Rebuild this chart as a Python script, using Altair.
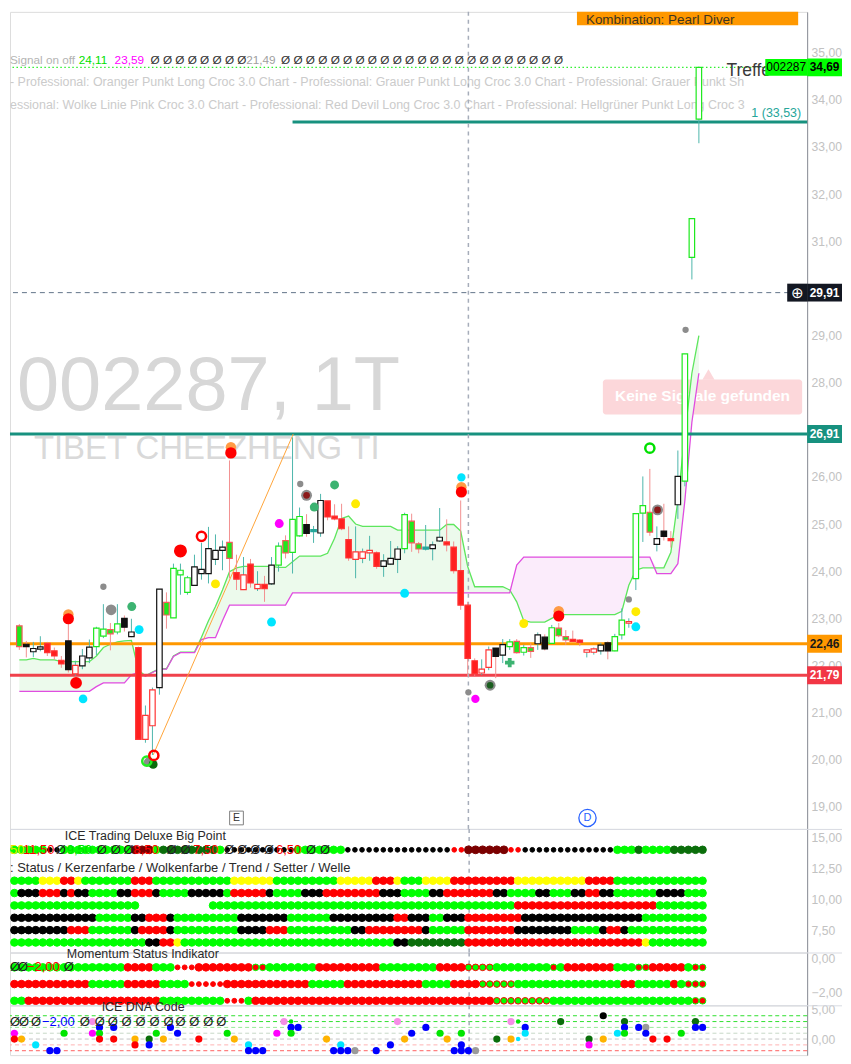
import altair as alt
import pandas as pd

# ---------------- candle data (bar index 0..98) ----------------
opens = [22.24, 22.84, 22.45, 22.29, 22.36, 22.47, 22.31, 22.11, 22.52, 21.82,
         21.99, 22.16, 22.40, 22.62, 22.76, 22.71, 23.00, 22.61, 22.38, 20.43,
         20.72, 21.53, 23.34, 23.01, 23.92, 23.55, 23.70, 23.95, 23.95, 24.25,
         24.44, 24.61, 23.97, 23.61, 24.15, 23.63, 23.72, 23.73, 24.13, 24.65,
         24.40, 24.75, 24.99, 24.85, 24.81, 25.49, 25.17, 25.11, 24.67, 24.25,
         24.27, 24.39, 24.39, 24.10, 24.15, 24.25, 24.48, 25.06, 24.58, 24.48,
         24.48, 24.64, 24.62, 24.51, 24.01, 23.28, 22.10, 21.84, 21.96, 22.37,
         22.22, 22.40, 22.51, 22.28, 22.38, 22.46, 22.60, 22.47, 22.79, 22.61,
         22.54, 22.54, 22.28, 22.28, 22.31, 22.48, 22.31, 22.65, 22.91, 23.84,
         25.23, 25.25, 24.57, 24.85, 24.68, 25.41, 25.91, 30.66, 33.59]
closes = [22.70, 22.40, 22.40, 22.36, 22.38, 22.27, 22.20, 22.03, 21.91, 22.00,
          22.20, 22.39, 22.79, 22.77, 22.67, 22.88, 22.81, 22.71, 20.43, 20.94,
          21.48, 23.62, 23.07, 24.06, 24.02, 23.86, 24.09, 24.04, 24.48, 24.44,
          24.51, 24.27, 23.83, 23.92, 23.75, 23.72, 23.63, 24.13, 24.53, 24.39,
          25.10, 25.16, 24.80, 24.87, 25.50, 25.15, 25.11, 24.90, 24.28, 24.41,
          24.41, 24.44, 24.10, 24.22, 24.27, 24.47, 25.20, 24.60, 24.47, 24.50,
          24.56, 24.72, 24.56, 24.01, 23.28, 22.15, 21.82, 21.92, 22.33, 22.19,
          22.44, 22.50, 22.27, 22.38, 22.30, 22.65, 22.35, 22.80, 22.63, 22.54,
          22.52, 22.49, 22.33, 22.35, 22.43, 22.31, 22.61, 22.96, 22.92, 25.22,
          25.39, 24.83, 24.69, 24.74, 24.66, 26.01, 28.61, 31.48, 34.69]
highs = [22.75, 22.88, 22.52, 22.50, 22.62, 22.50, 22.38, 22.20, 22.97, 22.10,
         22.35, 22.55, 22.82, 23.30, 22.90, 23.30, 23.06, 22.99, 22.40, 21.15,
         21.53, 23.62, 23.55, 24.16, 24.16, 23.90, 24.35, 24.60, 24.94, 24.78,
         24.65, 26.35, 24.35, 24.30, 24.26, 24.00, 23.90, 24.30, 24.61, 24.76,
         26.84, 25.35, 25.21, 24.96, 25.64, 25.49, 25.42, 25.43, 24.95, 24.95,
         24.48, 24.75, 24.42, 24.36, 24.64, 24.53, 25.24, 25.22, 24.62, 24.98,
         24.63, 25.34, 25.10, 24.63, 25.50, 23.35, 22.15, 22.13, 22.40, 22.37,
         22.56, 22.56, 22.56, 22.44, 22.47, 22.70, 22.66, 22.86, 22.90, 22.75,
         22.74, 22.56, 22.33, 22.38, 22.48, 22.51, 22.67, 23.21, 23.00, 25.22,
         26.01, 26.17, 24.95, 25.43, 24.85, 26.56, 28.61, 31.48, 34.69]
lows = [22.20, 22.33, 22.17, 22.18, 22.30, 22.20, 22.12, 21.95, 21.85, 21.78,
        21.92, 22.05, 22.22, 22.58, 22.32, 22.66, 22.72, 22.60, 20.43, 20.36,
        20.10, 21.38, 22.78, 23.01, 23.50, 23.50, 23.70, 23.82, 23.74, 24.13,
        24.02, 23.85, 23.60, 23.60, 23.65, 23.58, 23.35, 23.71, 23.99, 24.27,
        23.95, 24.73, 24.73, 24.60, 24.73, 25.08, 25.08, 24.87, 24.22, 23.85,
        24.17, 24.22, 24.05, 23.88, 24.13, 23.96, 24.38, 24.41, 24.38, 24.44,
        24.23, 24.62, 24.42, 23.95, 23.18, 21.77, 21.78, 21.80, 21.90, 21.73,
        22.05, 22.33, 22.25, 22.21, 22.16, 22.33, 22.32, 22.47, 22.60, 22.44,
        22.50, 22.41, 22.17, 22.23, 22.23, 22.13, 22.30, 22.55, 22.80, 23.60,
        24.62, 24.75, 24.42, 24.65, 24.50, 25.11, 25.80, 30.19, 33.08]
candle_types = list("KMKKKRRRKR" "KKGGMGKKRR" "RKMGGGKKKK" "KMRRRRRKGM" "GGKTKRRRRR"
                    "RRRKKKGMMT" "KKRRRRRRRK" "KGMGMKKGMM" "RRRRKKGGRG" "GMKKRKGGG")

# cloud lines (green = Wolke, magenta = Wolke Linie Pink)
cloud_green = ([22.12] * 3 + [22.15] + [22.12] * 3 + [22.08] * 5 + [22.20, 22.38, 22.45, 22.50, 22.52, 22.53,
               21.90, 21.78, 21.86, 21.93, 21.93, 22.20] + [22.28] * 3 + [22.60, 22.95, 23.25, 23.60, 23.99, 24.07]
               + [24.10] * 5 + [24.08] * 2 + [24.20] + [24.32] * 4 + [24.38, 24.70, 25.12, 25.17, 25.00]
               + [24.95] * 5 + [24.87] * 7 + [24.99] * 2 + [24.85, 24.10] + [23.67] * 5 + [23.60, 23.35, 22.95]
               + [22.92] * 3 + [23.00] + [23.08] * 9 + [23.15, 23.70, 24.02] + [24.07] * 4
               + [24.40, 25.50, 26.90, 28.20, 29.00])
cloud_pink = ([21.45] * 12 + [21.55] + [21.63] * 4 + [21.80, 21.85, 21.77, 21.85, 21.92, 21.92, 22.19]
              + [22.27] * 3 + [22.55, 22.59, 22.59, 22.95] + [23.28] * 9 + [23.54] * 32 + [24.13]
              + [24.30] * 19 + [23.95] * 3 + [24.16, 25.50, 27.16, 28.20])

# signal dots on the price panel
sig_k = [8, 8, 9.1, 10.1, 13.0, 14.1, 17.05, 18.1, 19.4, 20.1, 24.0, 29.0, 31.2, 31.2, 37.0, 38.1,
         41.1, 42.0, 42.0, 43.1, 46.0, 49.0, 56.0, 64.1, 64.1, 64.1, 65.1, 66.1, 68.2, 68.2, 73.0,
         78.0, 78.0, 88.0, 89.0, 89.0, 92.1, 92.1, 96.1]
sig_p = [23.08, 22.99, 21.63, 21.29, 23.67, 23.18, 23.25, 22.76, 19.95, 19.90, 24.43, 23.73, 26.63,
         26.51, 22.92, 25.01, 25.85, 25.61, 25.61, 25.36, 25.83, 25.43, 23.53, 25.99, 25.78, 25.68,
         21.43, 21.29, 21.58, 21.58, 22.89, 23.15, 23.05, 23.40, 23.14, 22.82, 25.30, 25.30, 29.12]
sig_c = ["#ff9b45", "#ff0000", "#ff0000", "#00e5ff", "#8c8c8c", "#8c8c8c", "#3cb371", "#00e5ff",
         "#8c8c8c", "#0b6b0b", "#ff0000", "#ffeb00", "#ff9b45", "#ff0000", "#00e5ff", "#ff00ff",
         "#8c8c8c", "#8c8c8c", "#8b1a1a", "#3cb371", "#3cb371", "#ffeb00", "#00e5ff", "#00e5ff",
         "#ff9b45", "#ff0000", "#8c8c8c", "#ff00ff", "#8c8c8c", "#1b5e20", "#ffeb00", "#ff9b45",
         "#ff0000", "#8c8c8c", "#ffeb00", "#00e5ff", "#8c8c8c", "#8b1a1a", "#8c8c8c"]
sig_s = [110, 125, 140, 75, 40, 115, 80, 80, 80, 80, 170, 80, 110, 130, 80, 80, 40, 120, 45, 80, 80,
         80, 80, 70, 110, 125, 40, 70, 120, 45, 80, 110, 125, 40, 80, 80, 120, 45, 40]
ring_k = [19.2, 20.2, 27.0, 91.0]
ring_p = [19.97, 20.09, 24.74, 26.61]
ring_c = ["#22ee22", "#ff0000", "#ff0000", "#00e000"]
plus_k = [71.0]
plus_p = [22.06]
trend_k = [20.1, 40.1]
trend_p = [20.10, 26.91]

# indicator rows (run-length coded colours per bar)
bigpoint_rle = "G6 k2 G10 M3 G1 D8 G1 k10 G7 k15 r2 M6 r2 k13 G3 D1 G4 D5"
status_rle = "G5 Y3 R2 Y1 G7 R3 G11 Y6 G9 Y5 R3 Y1 G3 Y4 R9 Y10 R4 G13"
candle_rle = "R1 G1 K3 R3 K1 R1 K2 G4 K2 R3 K1 G4 K5 G1 R5 K1 G4 K3 R8 K3 G4 K2 R7 K2 G4 K2 G3 K2 R2 K2 G6 K4 G3"
cloudc_rle = "G19 _10 G43 R20 G7"
trend_rle = "K13 G5 K2 R3 K1 G9 K7 G6 K9 R2 K3 G2 K3 R8 K17 G9"
setter_rle = "K9 R3 G6 K1 R4 K1 G9 K4 R3 G9 K2 R8 K1 G5 R7 K8 G4 K1 R2 K1 G11"
wave_rle = "G20 K2 R2 Y1 G30 K2 D8 R25 Y1 G8"
bp_levels = [14.0, 11.5, 10.5, 9.5, 8.5, 7.5, 6.5]
mom_a_rle = "G17 R4 G3 s3 R8 b2 G7 R9 G8 R4 a4 G8 b1 G1 R7 G3 b2 R5 G1 b2"
mom_b_rle = "R12 G5 R5 G4 s5 R12 G5 R11 G4 R4 a5 G15 R2 G5 R1 G1 b3"
mom_c_rle = "R1 G2 R19 G9 s3 G1 R34 a8 G20 b2"
mom_levels = [-0.5, -1.5, -2.5]

dna_k = [1, 1, 2, 2, 4, 6, 7, 6, 8,
         12, 12, 13, 13, 13, 15, 15, 18, 18, 18,
         18, 20, 20, 21, 22, 23, 24, 27, 28, 31,
         32, 33, 34, 34, 35, 36, 38, 39, 40, 40,
         40, 41, 44, 45, 45, 45, 46, 47, 47, 48,
         49, 52, 54, 55, 56, 57, 59, 61, 62, 62,
         63, 63, 64, 64, 64, 65, 66, 69, 71, 71,
         72, 72, 73, 73, 78, 82, 82, 82, 84, 84,
         86, 87, 87, 87, 89, 90, 90, 91, 93, 94,
         95, 97, 97, 98]
dna_v = [1, 0, 0, -4, -1, -2, -2, -3, 1,
         1, 3, 2, 1, 0, 2, 0, 0, -1, -3.3,
         -4, 0, -1, 1, 0, 2, 1, 0, -3, 1,
         0, -3, -1, -2, -2, -2, 1, 3, 3, 2,
         1, 2, -3, 0, -3.3, -4, -2, -1, -2, -2,
         -2, -2, -1, 3, 0, 1, 2, 1, -3, 0,
         -2, -3.3, 1, -1, -2, -2, -2, 0, 3, 0,
         3, 0, 2, 1, 3, 0, -1, -3, 4, 0,
         1, 3, 2, 1, 2, 2, 1, 0, 0, -3,
         1, 3, 2, 2]
dna_c = list("mrokcbbdg" "mpbgrbrors" "kdbgobbrpg" "odcbbbmptb" "gbposkbcbb"
             "ybbpobbgpo" "bsgbbbydpo" "tubcddmpko" "cdbgbybrrp" "gdbb")
dna_levels = [4, 3, 2, 1, 0, -1, -2, -3, -4]
dna_level_colors = ["#2ee02e", "#2ee02e", "#98e898", "#c8d8c8", "#c4c4c4", "#ffb3b3", "#ff6060", "#ff5050", "#ff5050"]

# ---------------- layout helpers ----------------
W = 800
AXW = 35   # width kept for the price axis (page is 851 wide with 8px margins)
H_MAIN, H_BP, H_MOM, H_DNA = 820, 124, 53, 50
DNA_DOMAIN = [5.79 - H_DNA / 5.85, 5.79]
FONT = "Liberation Sans"
LABEL_EXPR = "replace(replace(format(datum.value, '.2f'), '.', ','), '-', '\u2212')"
one = pd.DataFrame({"z": [0]})
FIRST_VISIBLE_BAR = 1   # bar 0 sits left of the plot edge


def xscale():
    return alt.Scale(domain=[0.38, 112.74], nice=False, zero=False)


def X(field):
    return alt.X(field, type="quantitative", scale=xscale(), axis=None)


def XD(v):
    return alt.XDatum(v, type="quantitative", scale=xscale(), axis=None)


def make_y(domain, vals):
    sc = alt.Scale(domain=domain, nice=False, zero=False)
    ax = alt.Axis(orient="right", values=vals, labelExpr=LABEL_EXPR, grid=False, ticks=False,
                  domain=True, domainColor="#8d9099", labelColor="#c2c2c2", labelFontSize=12.2,
                  labelFont=FONT, labelPadding=4, title=None)

    def Y(field):
        return alt.Y(field, type="quantitative", scale=sc, axis=ax)

    def YD(v):
        return alt.YDatum(v, type="quantitative", scale=sc, axis=ax)
    return Y, YD


def txt(s, x, y, color, size=12.5, align="left", baseline="middle", weight="normal", **kw):
    return alt.Chart(one).mark_text(align=align, baseline=baseline, fontSize=size, fontWeight=weight,
                                    color=color, font=FONT, **kw).encode(
        x=alt.value(x), y=alt.value(y), text=alt.value(s))


def txt_y(s, x, Ycoord, color, size=12.5, align="left", weight="normal", **kw):
    return alt.Chart(one).mark_text(align=align, baseline="middle", fontSize=size, fontWeight=weight,
                                    color=color, font=FONT, **kw).encode(
        x=alt.value(x), y=Ycoord, text=alt.value(s))


def expand(rle):
    out = []
    for tok in rle.split():
        out += [tok[0]] * int(tok[1:])
    return out


DOT = {
    "G": ("#00ff00", "#00ff00", 58), "Y": ("#ffff00", "#ffff00", 58), "R": ("#ff0000", "#ff0000", 58),
    "K": ("#000000", "#000000", 58), "D": ("#0b6e0b", "#0b6e0b", 58), "M": ("#7b0000", "#7b0000", 62),
    "k": ("#000000", "#000000", 22), "r": ("#ff0000", "#ff0000", 22), "s": ("#ff0000", "#ff0000", 24),
    "a": ("#00ff00", "#ff0000", 44), "b": ("#ff0000", "#00ff00", 44),
}


def rows_frame(rles, levels):
    recs = []
    for rle, lv in zip(rles, levels):
        for i, code in enumerate(expand(rle)):
            if code == "_" or i < FIRST_VISIBLE_BAR:
                continue
            f, s, z = DOT[code]
            recs.append({"k": i, "v": lv, "fill": f, "stroke": s, "size": z})
    return pd.DataFrame(recs)


def separator():
    return alt.Chart(one).mark_rule(color="#d9dbe2", strokeWidth=1).encode(
        x=alt.value(0), x2=alt.value(W + AXW), y=alt.value(0.5))


def vline():
    return alt.Chart(one).mark_rule(color="#a6adba", strokeWidth=1.5, strokeDash=[4, 4]).encode(x=XD(65.1))


# ---------------- main price panel ----------------
Y, YD = make_y([18.531, 35.867], [19, 20, 21, 22, 23, 24, 25, 26, 28, 29, 31, 32, 33, 34, 35])

cd = pd.DataFrame({"k": list(range(len(opens))), "o": opens, "h": highs, "l": lows, "c": closes,
                   "t": candle_types, "g": cloud_green, "m": cloud_pink})
cd["top"] = cd[["o", "c"]].max(axis=1)
cd["bot"] = cd[["o", "c"]].min(axis=1)
thin = (cd["top"] - cd["bot"]) < 0.03
cd.loc[thin, "top"] = cd.loc[thin, "top"] + 0.012
cd.loc[thin, "bot"] = cd.loc[thin, "bot"] - 0.012
cd["ctop"] = cd[["g", "m"]].max(axis=1)


def style(row):
    up = row.c > row.o
    t = row.t
    if t == "K":
        return ("#ffffff" if up else "#111111", "#111111")
    if t == "G":
        return ("#ffffff" if up else "#1de91d", "#1de91d")
    if t == "R":
        return ("#ffffff" if up else "#ff1f1f", "#ff3535")
    if t == "M":
        return ("#1de91d", "#f25c5c")
    return ("#26a69a", "#26a69a")


st = cd.apply(style, axis=1)
cd["fill"] = [s[0] for s in st]
cd["stroke"] = [s[1] for s in st]
cd["wick"] = ["#4db6ac" if c >= o else "#f29191" for o, c in zip(cd.o, cd.c)]
cd = cd[cd.k >= FIRST_VISIBLE_BAR]

sig = pd.DataFrame({"k": sig_k, "p": sig_p, "c": sig_c, "s": sig_s})
rings = pd.DataFrame({"k": ring_k, "p": ring_p, "c": ring_c})
plus = pd.DataFrame({"k": plus_k, "p": plus_p})
trend = pd.DataFrame({"k": trend_k, "p": trend_p})

L = []
# watermark
L.append(txt("002287, 1T", 7, 400, "#d7d7d7", size=76, baseline="alphabetic"))
L.append(txt("TIBET CHEEZHENG TI", 24, 449, "#d9d9d9", size=33, baseline="alphabetic"))
# legend lines
leg1 = [("Signal on off", 0, "#b3b3b3"), ("24,11", 69, "#00e000"), ("23,59", 105, "#ff00ff"),
        ("Ø Ø Ø Ø Ø Ø Ø Ø", 141, "#333333"), ("21,49", 237, "#a0a0a0"), ("Ø " * 23, 272, "#333333")]
for s, x, c in leg1:
    L.append(txt(s, x, 48, c, size=11.8))
L.append(txt("- Professional: Oranger Punkt Long Croc 3.0 Chart - Professional: Grauer Punkt Long Croc 3.0 Chart"
             " - Professional: Grauer Punkt Short Croc 3.0 Chart", 0, 70, "#cbcbcb", size=12.5,
             limit=742, ellipsis=" "))
L.append(txt("essional: Wolke Linie Pink Croc 3.0 Chart - Professional: Red Devil Long Croc 3.0 Chart"
             " - Professional: Hellgrüner Punkt Long Croc 3.0 Chart", 0, 93, "#cbcbcb", size=12.5,
             limit=742, ellipsis=" "))
# "Keine Signale gefunden" box
L.append(alt.Chart(one).mark_rect(color="#fcd7da", cornerRadius=3).encode(
    x=alt.value(595), x2=alt.value(795), y=alt.value(369), y2=alt.value(404)))
L.append(alt.Chart(one).mark_point(shape="triangle-up", filled=True, size=150, color="#fcd7da", opacity=1).encode(
    x=alt.value(701), y=alt.value(364)))
L.append(txt("Keine Signale gefunden", 695, 386, "#ffffff", size=15.5, align="center", weight="bold"))
# cloud
base = alt.Chart(cd)
L.append(base.mark_area(color="#ecfaec", interpolate="linear").encode(
    x=X("k"), y=Y("ctop"), y2=alt.Y2("m")))
L.append(base.mark_area(color="#fbecfb", interpolate="linear").encode(
    x=X("k"), y=Y("ctop"), y2=alt.Y2("g")))
L.append(base.mark_line(color="#5de65d", strokeWidth=1.3).encode(x=X("k"), y=Y("g")))
L.append(base.mark_line(color="#e04ce0", strokeWidth=1.3).encode(x=X("k"), y=Y("m")))
# horizontal levels
L.append(alt.Chart(one).mark_rule(color="#17917f", strokeWidth=3).encode(y=YD(26.91)))
L.append(alt.Chart(one).mark_rule(color="#ff9800", strokeWidth=3).encode(y=YD(22.46)))
L.append(alt.Chart(one).mark_rule(color="#f0414b", strokeWidth=3).encode(y=YD(21.79)))
L.append(alt.Chart(one).mark_rule(color="#17917f", strokeWidth=3).encode(x=XD(40.0), x2=alt.value(W), y=YD(33.53)))
L.append(alt.Chart(one).mark_rule(color="#62748a", strokeWidth=1, strokeDash=[5, 4]).encode(y=YD(29.91)))
L.append(alt.Chart(one).mark_rule(color="#2ef02e", strokeWidth=1.3, strokeDash=[1.5, 2.5]).encode(y=YD(34.69)))
L.append(alt.Chart(trend).mark_line(color="#ffa53a", strokeWidth=1).encode(x=X("k"), y=Y("p")))
L.append(vline())
# candles
L.append(base.mark_rule(strokeWidth=1).encode(x=X("k"), y=Y("l"), y2=alt.Y2("h"),
                                              color=alt.Color("wick:N", scale=None)))
L.append(base.mark_bar(size=5.5, strokeWidth=1.2).encode(
    x=X("k"), y=Y("bot"), y2=alt.Y2("top"),
    fill=alt.Fill("fill:N", scale=None), stroke=alt.Stroke("stroke:N", scale=None)))
# signals
L.append(alt.Chart(sig).mark_circle(opacity=1).encode(
    x=X("k"), y=Y("p"), color=alt.Color("c:N", scale=None), size=alt.Size("s:Q", scale=None)))
L.append(alt.Chart(rings).mark_point(filled=False, strokeWidth=2.5, size=85, opacity=1).encode(
    x=X("k"), y=Y("p"), color=alt.Color("c:N", scale=None)))
L.append(alt.Chart(plus).mark_point(shape="cross", filled=True, size=90, color="#3cb371", opacity=1).encode(
    x=X("k"), y=Y("p")))
# E / D markers
L.append(alt.Chart(one).mark_point(shape="square", filled=True, size=190, fill="#ffffff", stroke="#808080",
                                   strokeWidth=1, opacity=1).encode(x=XD(32.0), y=alt.value(809)))
L.append(alt.Chart(one).mark_text(fontSize=10.5, color="#333333", font=FONT).encode(
    x=XD(32.0), y=alt.value(809.5), text=alt.value("E")))
L.append(alt.Chart(one).mark_point(shape="circle", filled=True, size=300, fill="#ffffff", stroke="#2962ff",
                                   strokeWidth=1.3, opacity=1).encode(x=XD(82.1), y=alt.value(809)))
L.append(alt.Chart(one).mark_text(fontSize=11, color="#2962ff", font=FONT).encode(
    x=XD(82.1), y=alt.value(809.5), text=alt.value("D")))
# top-right annotations
L.append(txt("Treffe", 719, 64.7, "#3a3a3a", size=17.5, baseline="alphabetic"))
L.append(alt.Chart(one).mark_rect(color="#ff9800").encode(
    x=alt.value(569), x2=alt.value(791), y=alt.value(0), y2=alt.value(13.5)))
L.append(txt("Kombination: Pearl Diver", 578, 1, "#3d3520", size=13.5, baseline="top"))
L.append(txt_y("1 (33,53)", 794, YD(33.53), "#26a69a", size=12.5, align="right", dy=-9))
# price tags on the axis
TAG_X = W + AXW / 2
tags = [(34.69, "34,69", "#00ff00", "#000000"), (29.91, "29,91", "#131722", "#ffffff"),
        (26.91, "26,91", "#17917f", "#ffffff"), (22.46, "22,46", "#ff9800", "#1a1a1a"),
        (21.79, "21,79", "#f23645", "#ffffff")]
for p, lab, bg, fg in tags:
    L.append(alt.Chart(one).mark_tick(orient="horizontal", size=AXW, thickness=18, color=bg, opacity=1).encode(
        x=alt.value(TAG_X), y=YD(p)))
    L.append(txt_y(lab, TAG_X, YD(p), fg, size=12, align="center", weight="bold"))
L.append(alt.Chart(one).mark_tick(orient="horizontal", size=42, thickness=17, color="#00ff00", opacity=1).encode(
    x=alt.value(779), y=YD(34.69)))
L.append(txt_y("002287", 779, YD(34.69), "#000000", size=12, align="center"))
L.append(alt.Chart(one).mark_tick(orient="horizontal", size=20, thickness=18, color="#131722", opacity=1).encode(
    x=alt.value(790), y=YD(29.91)))
L.append(txt_y("\u2295", 790, YD(29.91), "#ffffff", size=15, align="center"))

main = alt.layer(*L).properties(width=W, height=H_MAIN)

# ---------------- Big Point / status panel ----------------
Y2p, YD2 = make_y([5.69, 15.69], [7.5, 10, 12.5, 15])
bp = rows_frame([bigpoint_rle, status_rle, candle_rle, cloudc_rle, trend_rle, setter_rle, wave_rle], bp_levels)
P2 = [separator(), vline()]
P2.append(alt.Chart(bp).mark_circle(opacity=1, strokeWidth=1).encode(
    x=X("k"), y=Y2p("v"), fill=alt.Fill("fill:N", scale=None), stroke=alt.Stroke("stroke:N", scale=None),
    size=alt.Size("size:Q", scale=None)))
P2.append(txt("ICE Trading Deluxe Big Point", 55, 7, "#2a2a2a", size=12.5))
bp_tokens = [("50", 0, "#e6e600"), ("11,50", 13, "#ff0000"), ("Ø", 46, "#222222"), ("9,50", 57, "#00dd00"),
             ("Ø", 87, "#222222"), ("Ø", 101, "#222222"), ("Ø", 114, "#222222"), ("8,50", 124, "#ff0000"),
             ("Ø", 157, "#222222"), ("Ø", 171, "#222222"), ("7,50", 184, "#ff0000"), ("Ø", 215, "#222222"),
             ("Ø", 228, "#222222"), ("Ø", 241, "#222222"), ("Ø", 255, "#222222"), ("6,50", 267, "#ff0000"),
             ("Ø", 297, "#222222"), ("Ø", 311, "#222222")]
for s, x, c in bp_tokens:
    P2.append(txt_y(s, x, YD2(14.0), c, size=13))
P2.append(txt(": Status / Kerzenfarbe / Wolkenfarbe / Trend / Setter / Welle", 0, 39, "#2a2a2a", size=13))
panel2 = alt.layer(*P2).properties(width=W, height=H_BP)

# ---------------- Momentum panel ----------------
Y3, YD3 = make_y([-2.77, 0.39], [0, -2])
mom = rows_frame([mom_a_rle, mom_b_rle, mom_c_rle], mom_levels)
P3 = [separator(), vline()]
P3.append(alt.Chart(mom).mark_circle(opacity=1, strokeWidth=1).encode(
    x=X("k"), y=Y3("v"), fill=alt.Fill("fill:N", scale=None), stroke=alt.Stroke("stroke:N", scale=None),
    size=alt.Size("size:Q", scale=None)))
P3.append(txt("Momentum Status Indikator", 57, 2, "#2a2a2a", size=12.5))
for s, x, c in [("Ø", 0, "#222222"), ("Ø", 8, "#222222"), ("\u22122,00", 17, "#ff0000"), ("Ø", 54, "#222222")]:
    P3.append(txt_y(s, x, YD3(-0.5), c, size=13))
panel3 = alt.layer(*P3).properties(width=W, height=H_MOM)

# ---------------- DNA panel ----------------
Y4, YD4 = make_y(DNA_DOMAIN, [0, 5])
DNA_COL = {"c": ("#00e5ff", 52), "m": ("#ff00ff", 52), "r": ("#ff0000", 52), "o": ("#ffb300", 52),
           "k": ("#000000", 52), "b": ("#0000ff", 52), "d": ("#0a6e0a", 52), "g": ("#00e600", 52),
           "p": ("#f58ee6", 52), "y": ("#9a9a9a", 52), "s": ("#ff0000", 20), "t": ("#00e600", 20),
           "u": ("#00e5ff", 20)}
dna = pd.DataFrame({"k": dna_k, "v": dna_v, "c": [DNA_COL[c][0] for c in dna_c],
                    "s": [DNA_COL[c][1] for c in dna_c]})
dna = dna[dna.v >= -2]          # lower rows fall below the visible window
lv = pd.DataFrame({"lv": dna_levels, "c": dna_level_colors})
lv = lv[lv.lv >= -2]
P4 = [separator()]
P4.append(alt.Chart(lv).mark_rule(strokeWidth=1, strokeDash=[4, 3]).encode(
    y=Y4("lv"), color=alt.Color("c:N", scale=None)))
P4.append(vline())
P4.append(alt.Chart(dna).mark_circle(opacity=1).encode(
    x=X("k"), y=Y4("v"), color=alt.Color("c:N", scale=None), size=alt.Size("s:Q", scale=None)))
P4.append(txt("ICE DNA Code", 92, 2, "#2a2a2a", size=12.5))
dna_tokens = [("Ø", 0, "#222222"), ("Ø", 9, "#222222"), ("Ø", 21, "#222222"), ("\u22122,00", 32, "#0000ff")]
dna_tokens += [("Ø", x, "#222222") for x in [70, 85, 98, 112, 126, 140, 154, 166, 180, 194, 207]]
for s, x, c in dna_tokens:
    P4.append(txt_y(s, x, YD4(3.0), c, size=13))
panel4 = alt.layer(*P4).properties(width=W, height=H_DNA)

chart = alt.vconcat(main, panel2, panel3, panel4, spacing=0, bounds="flush").properties(
    padding=0, background="white"
).configure_view(strokeWidth=0).configure(font=FONT)

chart.save("out.html", embed_options={"renderer": "svg", "actions": False})
